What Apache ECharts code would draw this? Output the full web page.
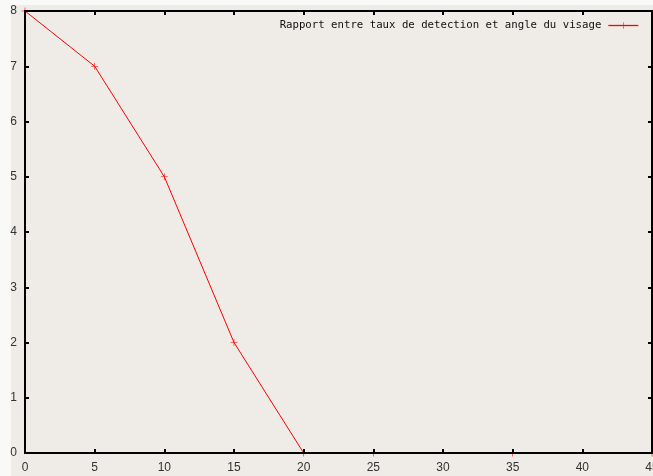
<!DOCTYPE html>
<html>
<head>
<meta charset="utf-8">
<script src="https://cdn.jsdelivr.net/npm/echarts@6/dist/echarts.min.js"></script>
<style>
html,body{margin:0;padding:0;background:#efebe6;}
#c{width:653px;height:476px;}
</style>
</head>
<body>
<div id="c"></div>
<script>
var seriesName = 'Rapport entre taux de detection et angle du visage';
var angles = [0, 5, 10, 15, 20, 25, 35, 45];
var rates = [8, 7, 5, 2, 0, 0, 0, 0];
var xTicks = [0, 5, 10, 15, 20, 25, 30, 35, 40, 45];
var yTicks = [0, 1, 2, 3, 4, 5, 6, 7, 8];

var data = angles.map(function (a, i) { return [a, rates[i]]; });
var plus = 'path://M0,4.6H10V5.4H0Z M4.6,0H5.4V10H4.6Z';
var labelFont = {fontFamily: 'Liberation Sans', fontSize: 12, color: '#333'};

var chart = echarts.init(document.getElementById('c'), null, {renderer: 'canvas'});
chart.setOption({
  backgroundColor: '#efebe6',
  animation: false,
  grid: {left: 25, right: 1, top: 11, bottom: 23, containLabel: false, outerBoundsMode: 'none'},
  legend: {
    right: 9, top: 15, align: 'right',
    itemWidth: 30, itemHeight: 8, itemGap: 0,
    lineStyle: {width: 1.3},
    textStyle: {fontFamily: 'DejaVu Sans Mono', fontSize: 10.7, color: '#111', padding: [0, 2, 0, 0]},
    data: [seriesName]
  },
  graphic: [
    {type: 'rect', shape: {x: 0, y: 0, width: 11, height: 476}, style: {fill: '#f9f9f8'}, z: -10, silent: true},
    {type: 'rect', shape: {x: 0, y: 0, width: 653, height: 5}, style: {fill: '#f9f9f8'}, z: -10, silent: true}
  ],
  xAxis: [{
    type: 'value', min: xTicks[0], max: xTicks[xTicks.length - 1], interval: 5,
    position: 'bottom', z: 10,
    axisLine: {show: true, onZero: false, lineStyle: {color: '#000', width: 2}},
    axisTick: {show: true, inside: true, length: 4, lineStyle: {color: '#000', width: 2}},
    axisLabel: Object.assign({margin: 9, showMaxLabel: true}, labelFont),
    splitLine: {show: false}
  }, {
    type: 'value', min: xTicks[0], max: xTicks[xTicks.length - 1], interval: 5,
    position: 'top', z: 10,
    axisLine: {show: true, onZero: false, lineStyle: {color: '#000', width: 2}},
    axisTick: {show: true, inside: true, length: 4, lineStyle: {color: '#000', width: 2}},
    axisLabel: {show: false},
    splitLine: {show: false}
  }],
  yAxis: [{
    type: 'value', min: yTicks[0], max: yTicks[yTicks.length - 1], interval: 1,
    position: 'left', z: 10,
    axisLine: {show: true, onZero: false, lineStyle: {color: '#000', width: 2}},
    axisTick: {show: true, inside: true, length: 4, lineStyle: {color: '#000', width: 2}},
    axisLabel: Object.assign({margin: 8}, labelFont),
    splitLine: {show: false}
  }, {
    type: 'value', min: yTicks[0], max: yTicks[yTicks.length - 1], interval: 1,
    position: 'right', z: 10,
    axisLine: {show: true, onZero: false, lineStyle: {color: '#000', width: 2}},
    axisTick: {show: true, inside: true, length: 4, lineStyle: {color: '#000', width: 2}},
    axisLabel: {show: false},
    splitLine: {show: false}
  }],
  series: [{
    name: seriesName,
    type: 'line',
    xAxisIndex: 0, yAxisIndex: 0,
    data: data,
    z: 2,
    symbol: plus,
    symbolSize: 7,
    showAllSymbol: true,
    clip: false,
    color: '#ff0000',
    itemStyle: {color: '#ff0000'},
    lineStyle: {color: '#ff0000', width: 1}
  }]
});
</script>
</body>
</html>
